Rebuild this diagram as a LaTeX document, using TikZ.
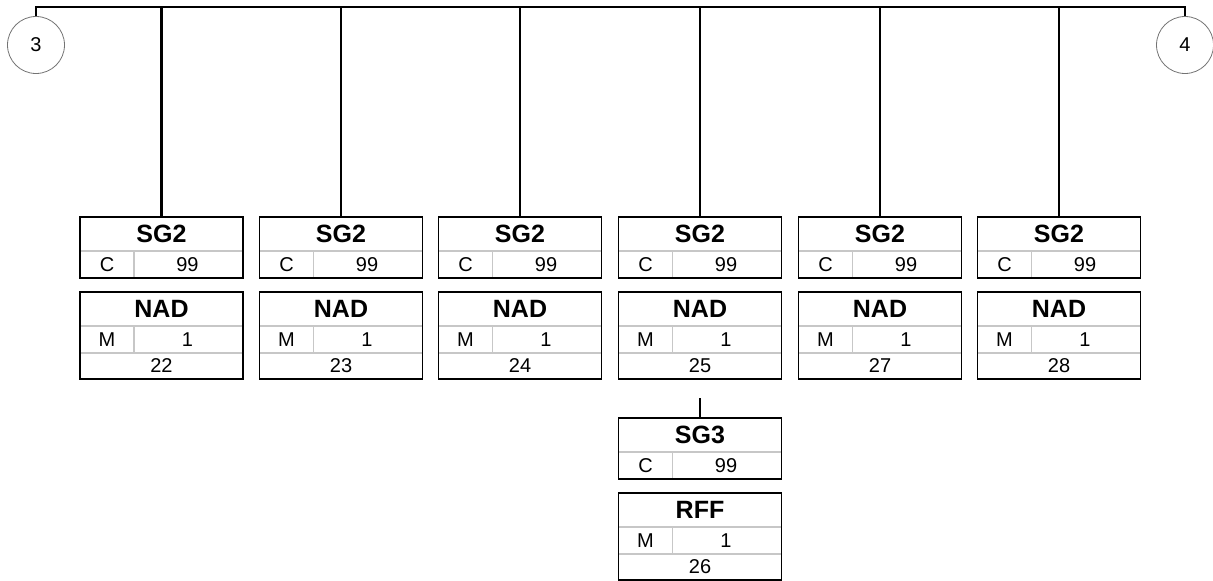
\documentclass[tikz,border=0pt]{standalone}
\usepackage{fontspec}
\setmainfont{Liberation Sans}
\usetikzlibrary{positioning}

\begin{document}
\begin{tikzpicture}[x=1pt,y=-1pt,
    conn/.style={line width=2.4pt},
    frame/.style={draw, line width=1.6pt, minimum width=163pt, inner sep=0pt, outer sep=0pt},
    grid/.style={draw=black!22, line width=1.2pt},
    hd/.style={inner sep=0pt, font=\fontsize{25}{25}\selectfont\bfseries},
    txt/.style={inner sep=0pt, font=\fontsize{20}{20}\selectfont},
    ref/.style={circle, draw=black!55, line width=0.8pt, minimum size=57pt, inner sep=0pt, font=\fontsize{20}{20}\selectfont}]
    \useasboundingbox (0,0) rectangle (1213,581);
    \node[ref] (c3) at (36,45) {3};
    \node[ref] (c4) at (1185,45) {4};
    \draw[conn] (c3.north) -- ++(0,-9) -| (c4.north);
    \foreach \x/\n [count=\i] in {161.5/22,341/23,520/24,700/25,880/27,1059/28} {
        \coordinate (t\i) at (\x,8);
        % segment group
        \draw[grid] (\x-81.5,251) -- (\x+81.5,251);
        \draw[grid] (\x-27.5,251) -- (\x-27.5,278);
        \node[frame, minimum height=61pt] (sg\i) at (\x,247.5) {};
        \node[hd] at (\x,234) {SG2};
        \node[txt] at (\x-54.5,264.5) {C};
        \node[txt] at (\x+26,264.5) {99};
        % segment
        \draw[grid] (\x-81.5,326) -- (\x+81.5,326);
        \draw[grid] (\x-81.5,353) -- (\x+81.5,353);
        \draw[grid] (\x-27.5,326) -- (\x-27.5,353);
        \node[frame, minimum height=87pt] (nad\i) at (\x,335.5) {};
        \node[hd] at (\x,309) {NAD};
        \node[txt] at (\x-54.5,339.5) {M};
        \node[txt] at (\x+26,339.5) {1};
        \node[txt] at (\x,366) {\n};
        \draw[conn] (t\i) -- (sg\i);
    }
    % SG3 below NAD 25
    \coordinate (s4) at (700,398);
    \draw[grid] (618.5,452) -- (781.5,452);
    \draw[grid] (672.5,452) -- (672.5,479);
    \node[frame, minimum height=61pt] (sg7) at (700,448.5) {};
    \node[hd] at (700,435) {SG3};
    \node[txt] at (645.5,465.5) {C};
    \node[txt] at (726,465.5) {99};
    \draw[grid] (618.5,527) -- (781.5,527);
    \draw[grid] (618.5,554) -- (781.5,554);
    \draw[grid] (672.5,527) -- (672.5,554);
    \node[frame, minimum height=87pt] (rff) at (700,536.5) {};
    \node[hd] at (700,510) {RFF};
    \node[txt] at (645.5,540.5) {M};
    \node[txt] at (726,540.5) {1};
    \node[txt] at (700,567) {26};
    \draw[conn] (s4) -- (sg7);
\end{tikzpicture}
\end{document}
